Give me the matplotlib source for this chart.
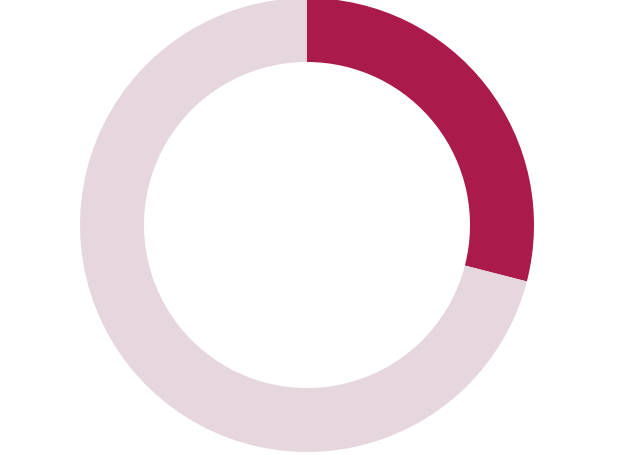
import matplotlib
matplotlib.use("Agg")
import matplotlib.pyplot as plt

labels = ["Share", "Remainder"]
values = [29, 71]
colors = ["#AA1A4B", "#E6D7DE"]

W, H = 617, 456
fig = plt.figure(figsize=(W / 100, H / 100), dpi=100)
cx, cy, r = 307, 226, 227
ax = fig.add_axes([(cx - r) / W, (H - cy - r) / H, 2 * r / W, 2 * r / H])
ax.pie(values, colors=colors, startangle=90, counterclock=False, radius=1.0,
       wedgeprops=dict(width=64 / 227, linewidth=0))
ax.set_xlim(-1, 1)
ax.set_ylim(-1, 1)
ax.set_aspect("equal")
ax.axis("off")
fig.savefig("out.png", dpi=100)
